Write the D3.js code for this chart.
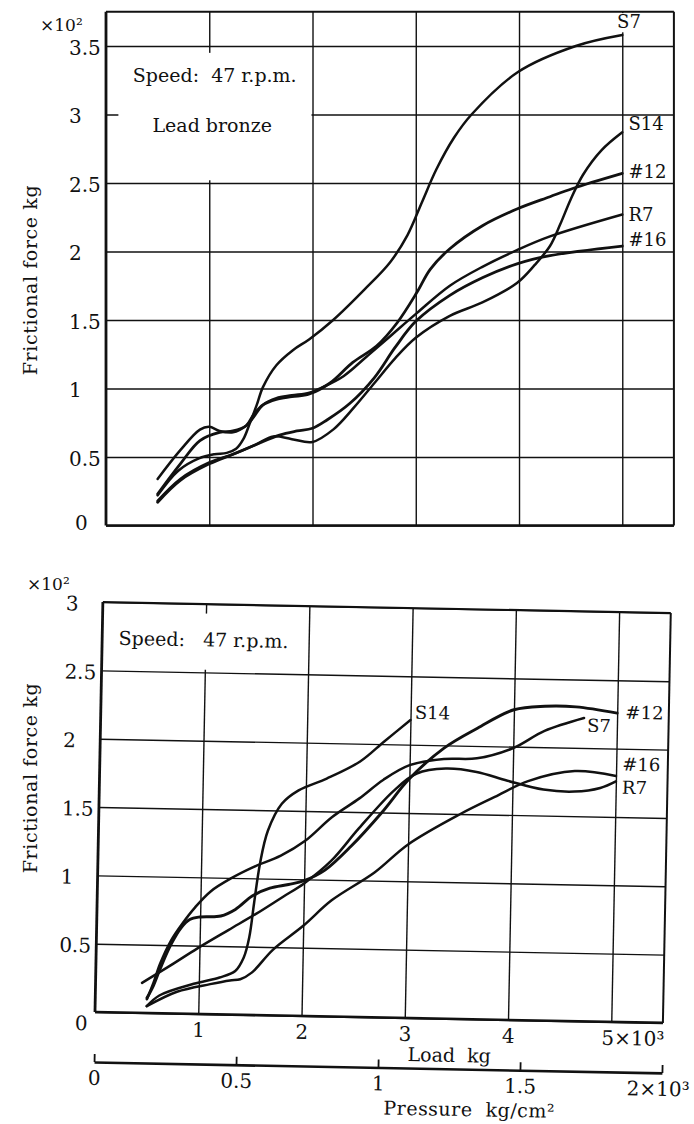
<!DOCTYPE html>
<html>
<head>
<meta charset="utf-8">
<script src="https://cdn.jsdelivr.net/npm/d3@7"></script>
<style>
  body { margin: 0; background: #fff; }
  svg { display: block; }
  text { font-family: "DejaVu Serif", "Liberation Serif", serif; fill: #111; }
</style>
</head>
<body>
<svg id="fig" width="694" height="1124"></svg>
<script>
// ---- axis ticks and labels ----
const loadTicks = [1, 2, 3, 4, 5];
const loadTickLabels = ["1", "2", "3", "4", "5×10³"];
const forceTicksTop = [0, 0.5, 1, 1.5, 2, 2.5, 3, 3.5];
const forceLabelsTop = ["0", "0.5", "1", "1.5", "2", "2.5", "3", "3.5"];
const forceTicksBottom = [0, 0.5, 1, 1.5, 2, 2.5, 3];
const forceLabelsBottom = ["0", "0.5", "1", "1.5", "2", "2.5", "3"];
const pressureTicks = [0, 0.5, 1, 1.5, 2];
const pressureLabels = ["0", "0.5", "1", "1.5", "2×10³"];

// ---- lead bronze, 47 r.p.m. : [load ×10³ kg, frictional force ×10² kg] ----
const leadS7 = [[0.5,0.22],[0.7,0.40],[0.9,0.49],[1.05,0.52],[1.17,0.53],[1.26,0.56],[1.33,0.63],[1.39,0.74],[1.46,0.88],[1.52,1.01],[1.65,1.17],[1.81,1.28],[1.97,1.36],[2.2,1.5],[2.5,1.72],[2.75,1.92],[2.92,2.12],[3.06,2.36],[3.2,2.6],[3.37,2.83],[3.54,3.0],[3.99,3.31],[4.55,3.5],[5.0,3.58]];
const leadS14 = [[0.5,0.18],[0.72,0.34],[1.0,0.46],[1.23,0.52],[1.45,0.59],[1.62,0.65],[1.8,0.63],[2.0,0.61],[2.2,0.70],[2.4,0.86],[2.6,1.04],[2.8,1.22],[3.0,1.37],[3.33,1.53],[3.65,1.63],[3.98,1.77],[4.15,1.90],[4.3,2.04],[4.4,2.2],[4.5,2.38],[4.62,2.56],[4.8,2.74],[5.0,2.87]];
const lead12 = [[0.5,0.23],[0.72,0.45],[0.91,0.62],[1.1,0.68],[1.23,0.69],[1.36,0.73],[1.43,0.81],[1.52,0.88],[1.65,0.92],[1.8,0.94],[1.97,0.96],[2.17,1.04],[2.39,1.19],[2.62,1.31],[2.82,1.48],[3.01,1.70],[3.14,1.87],[3.33,2.02],[3.65,2.19],[3.98,2.31],[4.3,2.40],[4.52,2.46],[5.0,2.57]];
const leadR7 = [[0.5,0.34],[0.72,0.55],[0.91,0.70],[1.0,0.72],[1.1,0.69],[1.23,0.68],[1.36,0.73],[1.43,0.79],[1.52,0.88],[1.65,0.93],[1.8,0.95],[1.97,0.97],[2.1,1.01],[2.3,1.09],[2.52,1.23],[2.75,1.38],[3.01,1.55],[3.33,1.75],[3.65,1.89],[3.98,2.01],[4.3,2.11],[5.0,2.27]];
const lead16 = [[0.5,0.17],[0.72,0.33],[1.0,0.45],[1.23,0.52],[1.45,0.59],[1.68,0.66],[1.85,0.69],[2.0,0.71],[2.14,0.77],[2.36,0.89],[2.6,1.08],[2.8,1.30],[3.0,1.49],[3.33,1.68],[3.65,1.81],[3.98,1.91],[4.3,1.97],[5.0,2.04]];

// ---- second bearing, 47 r.p.m. ----
const secS14 = [[0.5,0.05],[0.62,0.13],[0.95,0.22],[1.2,0.27],[1.35,0.32],[1.43,0.42],[1.48,0.57],[1.52,0.82],[1.57,1.11],[1.64,1.35],[1.77,1.55],[1.93,1.65],[2.2,1.74],[2.52,1.87],[2.75,2.02],[3.0,2.18]];
const secS7 = [[0.5,0.10],[0.56,0.22],[0.62,0.36],[0.72,0.53],[0.83,0.66],[0.95,0.78],[1.1,0.90],[1.3,1.0],[1.5,1.08],[1.77,1.17],[2.0,1.28],[2.26,1.46],[2.52,1.60],[2.75,1.74],[3.0,1.85],[3.33,1.90],[3.65,1.91],[4.0,1.99],[4.3,2.12],[4.68,2.22]];
const sec12 = [[0.5,0.11],[0.56,0.2],[0.62,0.32],[0.72,0.50],[0.82,0.63],[0.9,0.69],[1.0,0.71],[1.2,0.72],[1.34,0.77],[1.5,0.87],[1.67,0.93],[1.85,0.96],[2.0,0.99],[2.2,1.07],[2.45,1.25],[2.74,1.5],[3.0,1.75],[3.33,1.98],[3.65,2.13],[4.0,2.27],[4.3,2.30],[4.6,2.30],[5.0,2.26]];
const secR7 = [[0.45,0.22],[0.7,0.34],[0.98,0.48],[1.28,0.62],[1.54,0.74],[1.8,0.87],[2.0,0.97],[2.26,1.14],[2.52,1.38],[2.85,1.66],[3.07,1.79],[3.35,1.83],[3.65,1.81],[3.95,1.75],[4.3,1.69],[4.6,1.68],[4.85,1.71],[5.0,1.76]];
const sec16 = [[0.5,0.05],[0.79,0.16],[1.11,0.22],[1.3,0.25],[1.4,0.26],[1.51,0.31],[1.71,0.48],[2.0,0.66],[2.27,0.85],[2.68,1.06],[3.0,1.27],[3.5,1.5],[3.83,1.63],[4.15,1.75],[4.6,1.83],[5.0,1.80]];

const svg = d3.select("#fig");
const INK = "#111";
const line = (x, y) => d3.line().x(d => x(d[0])).y(d => y(d[1])).curve(d3.curveCatmullRom.alpha(0.5));

function drawPanel(g, o) {
  const x = d3.scaleLinear().domain([0, 5.5]).range([0, o.w]);
  const y = d3.scaleLinear().domain([0, o.yMax]).range([o.h, 0]);

  // vertical grid (load)
  const gx = g.append("g").attr("transform", `translate(0,${o.h})`)
    .call(d3.axisBottom(x).tickValues(loadTicks).tickSize(-o.h)
      .tickFormat((d, i) => o.xLabels ? o.xLabels[i] : ""));
  gx.select(".domain").remove();
  gx.selectAll("line").attr("stroke", INK).attr("stroke-width", 1.4);
  if (o.xLabels) {
    gx.selectAll("text").attr("font-size", 20).attr("y", 23).attr("dy", 0).attr("fill", INK);
    gx.selectAll("text").filter((d, i) => i === loadTicks.length - 1)
      .attr("text-anchor", "start").attr("x", -10);
  } else {
    gx.selectAll("text").remove();
  }

  // horizontal grid (force); the zero label sits by the corner, offset within its own tick
  const gy = g.append("g")
    .call(d3.axisLeft(y).tickValues(o.yTicks).tickSize(-o.w)
      .tickFormat((d, i) => o.yLabels[i]));
  gy.select(".domain").remove();
  gy.selectAll("line").attr("stroke", INK).attr("stroke-width", 1.4);
  gy.selectAll("text").attr("font-size", 20).attr("text-anchor", "start")
    .attr("x", -37).attr("dy", "0.42em").attr("fill", INK);
  gy.selectAll("text").filter(d => d === 0)
    .attr("x", o.zeroLabel[0]).attr("y", o.zeroLabel[1]).attr("dy", 0);

  // blank panel behind the annotation
  g.append("rect")
    .attr("x", x(o.mask[0])).attr("y", y(o.mask[3]))
    .attr("width", x(o.mask[1]) - x(o.mask[0]))
    .attr("height", y(o.mask[2]) - y(o.mask[3]))
    .attr("fill", "#fff");

  // frame
  const fr = g.append("g").attr("stroke", INK).attr("fill", "none");
  fr.append("line").attr("x1", 0).attr("x2", 0).attr("y1", y(o.yMax)).attr("y2", y(0)).attr("stroke-width", 2.8);
  fr.append("line").attr("x1", 0).attr("x2", x(5.5)).attr("y1", y(0)).attr("y2", y(0)).attr("stroke-width", 2.6);
  fr.append("line").attr("x1", 0).attr("x2", x(5.5)).attr("y1", y(o.yMax)).attr("y2", y(o.yMax)).attr("stroke-width", 2);
  fr.append("line").attr("x1", x(5.5)).attr("x2", x(5.5)).attr("y1", y(o.yMax)).attr("y2", y(0)).attr("stroke-width", 2);

  // annotation text
  o.notes.forEach(n => {
    g.append("text").attr("x", x(n.at[0])).attr("y", y(n.at[1]))
      .attr("font-size", 19).attr("xml:space", "preserve").text(n.text);
  });

  // curves
  const gen = line(x, y);
  g.append("g").selectAll("path").data(o.series).join("path")
    .attr("d", s => gen(s.pts))
    .attr("fill", "none").attr("stroke", INK)
    .attr("stroke-width", s => s.w || 2.5)
    .attr("stroke-linejoin", "round").attr("stroke-linecap", "round");

  // curve names
  o.series.forEach(s => {
    if (s.mask) {
      g.append("rect").attr("x", x(s.mask[0])).attr("y", y(s.mask[3]))
        .attr("width", x(s.mask[1]) - x(s.mask[0])).attr("height", y(s.mask[2]) - y(s.mask[3]))
        .attr("fill", "#fff");
    }
    g.append("text").attr("x", x(s.label[0])).attr("y", y(s.label[1]))
      .attr("font-size", 18).text(s.name);
  });
  return { x, y };
}

// ---------- upper panel : lead bronze ----------
const topG = svg.append("g").attr("transform", "translate(106,11.75)");
drawPanel(topG, {
  w: 567.9, h: 513.75, yMax: 3.75,
  yTicks: forceTicksTop, yLabels: forceLabelsTop,
  zeroLabel: [-31, 4],
  mask: [0.12, 1.99, 2.52, 3.45],
  notes: [
    { text: "Speed:  47 r.p.m.", at: [0.26, 3.24] },
    { text: "Lead bronze", at: [0.45, 2.87] }
  ],
  series: [
    { name: "S7", pts: leadS7, label: [4.95, 3.63], mask: [4.95, 5.2, 3.6, 3.74] },
    { name: "S14", pts: leadS14, label: [5.06, 2.89] },
    { name: "#12", pts: lead12, label: [5.06, 2.54], w: 2.8 },
    { name: "R7", pts: leadR7, label: [5.06, 2.22] },
    { name: "#16", pts: lead16, label: [5.06, 2.04], w: 2.8 }
  ]
});
svg.append("text").attr("x", 40).attr("y", 31).attr("font-size", 17).text("×10²");
svg.append("text").attr("transform", "translate(37,280) rotate(-90)")
  .attr("text-anchor", "middle").attr("font-size", 19).attr("letter-spacing", 0.6)
  .text("Frictional force kg");

// ---------- lower panel (printed slightly tilted) ----------
const TILT = "translate(95,1012) rotate(1.1)";
const botG = svg.append("g").attr("transform", TILT + " translate(0,-410)");
drawPanel(botG, {
  w: 568, h: 410, yMax: 3,
  yTicks: forceTicksBottom, yLabels: forceLabelsBottom,
  xLabels: loadTickLabels,
  zeroLabel: [-20, 18],
  mask: [0.05, 1.98, 2.52, 2.93],
  notes: [
    { text: "Speed:   47 r.p.m.", at: [0.16, 2.69] }
  ],
  series: [
    { name: "S14", pts: secS14, label: [3.04, 2.19] },
    { name: "S7", pts: secS7, label: [4.71, 2.12] },
    { name: "#12", pts: sec12, label: [5.08, 2.22], w: 2.9 },
    { name: "#16", pts: sec16, label: [5.06, 1.84] },
    { name: "R7", pts: secR7, label: [5.06, 1.67] }
  ]
});

// load title and the pressure scale beneath it
const botO = svg.append("g").attr("transform", TILT);
botO.append("text").attr("x", 355).attr("y", 43).attr("text-anchor", "middle")
  .attr("font-size", 19).attr("xml:space", "preserve").text("Load  kg");
const p = d3.scaleLinear().domain([0, 2]).range([0, 568]);
const pa = botO.append("g").attr("transform", "translate(0,50)")
  .call(d3.axisBottom(p).tickValues(pressureTicks).tickSize(-8).tickSizeOuter(0)
    .tickFormat((d, i) => pressureLabels[i]));
pa.select(".domain").attr("stroke", INK).attr("stroke-width", 2.6);
pa.selectAll("line").attr("stroke", INK).attr("stroke-width", 1.8);
pa.selectAll("text").attr("font-size", 20).attr("y", 23).attr("dy", 0).attr("fill", INK);
pa.selectAll("text").filter((d, i) => i === pressureTicks.length - 1).attr("x", -4);
botO.append("text").attr("x", 376).attr("y", 97).attr("text-anchor", "middle")
  .attr("font-size", 19).attr("letter-spacing", 0.5).attr("xml:space", "preserve")
  .text("Pressure  kg/cm²");

svg.append("text").attr("x", 27).attr("y", 590).attr("font-size", 17).text("×10²");
svg.append("text").attr("transform", "translate(37,778) rotate(-90)")
  .attr("text-anchor", "middle").attr("font-size", 19).attr("letter-spacing", 0.6)
  .text("Frictional force kg");
</script>
</body>
</html>
